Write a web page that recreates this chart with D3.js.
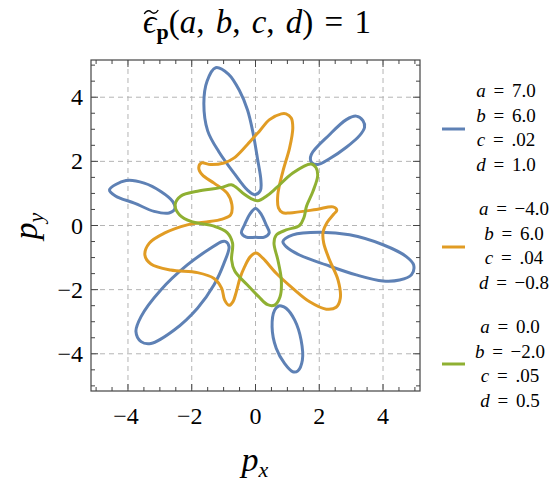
<!DOCTYPE html>
<html><head><meta charset="utf-8">
<script src="https://cdn.jsdelivr.net/npm/d3@7"></script>
<style>body{margin:0;background:#fff}svg{display:block}text{font-family:"Liberation Serif","DejaVu Serif",serif;fill:#000}</style>
</head><body><svg id="c" width="555" height="483"></svg>
<script>
// ---- data ----
const xTicks = [-4, -2, 0, 2, 4];
const yTicks = [-4, -2, 0, 2, 4];
const blueLoops = [
  [[-1.25,4.92],[-0.85,4.72],[-0.5,4.2],[-0.25,3.6],[-0.08,2.9],[0.06,2.1],[0.17,1.4],[0.15,1.08],[-0.03,0.96],[-0.25,1.1],[-0.65,1.6],[-1.15,2.3],[-1.5,2.95],[-1.62,3.8],[-1.52,4.5]],
  [[1.75,2.21],[2.32,2.83],[2.85,3.3],[3.16,3.41],[3.37,3.27],[3.42,3.06],[3.27,2.81],[2.85,2.44],[2.32,2.08],[1.96,1.9],[1.75,1.98]],
  [[-4.58,1.11],[-4.06,1.4],[-3.49,1.32],[-2.97,1.06],[-2.6,0.75],[-2.53,0.52],[-2.71,0.39],[-3.18,0.44],[-3.8,0.7],[-4.38,0.91]],
  [[0.86,-0.5],[1.17,-0.29],[2.01,-0.21],[2.95,-0.29],[4.0,-0.6],[4.73,-0.97],[4.96,-1.23],[4.89,-1.54],[4.52,-1.7],[4.0,-1.73],[3.16,-1.54],[2.22,-1.23],[1.38,-0.92],[0.96,-0.66]],
  [[0.81,-2.51],[0.96,-2.58],[1.23,-2.95],[1.43,-3.57],[1.47,-4.2],[1.33,-4.53],[1.17,-4.56],[0.91,-4.3],[0.65,-3.83],[0.52,-3.16],[0.6,-2.64],[0.73,-2.51]],
  [[-0.94,-0.5],[-0.83,-0.66],[-0.99,-1.18],[-1.3,-1.85],[-1.82,-2.58],[-2.55,-3.26],[-3.28,-3.68],[-3.59,-3.62],[-3.75,-3.31],[-3.59,-2.84],[-2.97,-2.01],[-2.14,-1.23],[-1.41,-0.71],[-1.04,-0.5]],
  [[0,0.53],[0.18,0.35],[0.33,0.03],[0.43,-0.23],[0.28,-0.36],[0,-0.37],[-0.29,-0.36],[-0.44,-0.23],[-0.34,0.03],[-0.18,0.35]]
];
const orangeCurve = [[0.81,3.48],[0.44,3.3],[0.13,2.95],[-0.26,2.52],[-0.68,2.1],[-0.99,1.95],[-1.41,1.9],[-1.69,1.95],[-1.78,1.8],[-1.67,1.58],[-1.3,1.32],[-0.89,1.01],[-0.74,0.65],[-0.78,0.33],[-1.04,0.2],[-1.61,0.1],[-2.14,0.02],[-2.86,-0.24],[-3.33,-0.55],[-3.47,-0.92],[-3.28,-1.2],[-2.66,-1.39],[-1.82,-1.47],[-1.3,-1.65],[-1.06,-1.96],[-0.97,-2.32],[-0.83,-2.49],[-0.71,-2.38],[-0.6,-2.06],[-0.49,-1.65],[-0.34,-1.28],[-0.16,-0.97],[0.02,-0.86],[0.23,-1.02],[0.65,-1.49],[1.17,-1.96],[1.7,-2.38],[2.22,-2.61],[2.53,-2.55],[2.66,-2.27],[2.59,-1.7],[2.32,-1.07],[2.14,-0.55],[2.12,-0.2],[2.25,0.1],[2.45,0.35],[2.55,0.48],[2.43,0.58],[1.91,0.5],[1.07,0.39],[0.85,0.4],[0.72,0.55],[0.7,0.96],[0.86,1.69],[1.07,2.42],[1.17,3.04],[1.12,3.35],[0.96,3.48]];
const greenCurve = [[1.75,1.92],[1.17,1.64],[0.65,1.17],[0.35,0.92],[0.07,0.77],[-0.14,0.84],[-0.36,0.98],[-0.62,1.2],[-0.76,1.27],[-1.09,1.18],[-1.82,1.07],[-2.34,0.92],[-2.52,0.65],[-2.38,0.33],[-2.0,0.12],[-1.3,-0.02],[-0.89,-0.22],[-0.72,-0.55],[-0.75,-1.07],[-0.65,-1.42],[-0.26,-1.85],[0.1,-2.22],[0.38,-2.47],[0.6,-2.48],[0.77,-2.22],[0.81,-1.7],[0.7,-1.07],[0.58,-0.55],[0.65,-0.3],[0.96,-0.14],[1.38,0.0],[1.52,0.25],[1.6,0.6],[1.8,1.06],[1.95,1.55],[1.9,1.8]];
const seriesNames = ["blue","orange","green"];
const seriesColors = ["#5E81B5","#E19C24","#8FB032"];
const paramA = ["7.0","\u22124.0","0.0"];
const paramB = ["6.0","6.0","\u22122.0"];
const paramC = [".02",".04",".05"];
const paramD = ["1.0","\u22120.8","0.5"];

// ---- chart ----
const svg = d3.select("#c");
const L = 91, R = 420, T = 60, B = 391;
const x = d3.scaleLinear().domain([-5.16, 5.16]).range([L, R]);
const y = d3.scaleLinear().domain([-5.16, 5.16]).range([B, T]);

// grid
const g = svg.append("g");
g.selectAll(".vg").data(xTicks).join("line")
  .attr("x1", d => x(d)).attr("x2", d => x(d)).attr("y1", T).attr("y2", B)
  .attr("stroke", "#b4b4b4").attr("stroke-width", 1).attr("stroke-dasharray", "5,4");
g.selectAll(".hg").data(yTicks).join("line")
  .attr("y1", d => y(d)).attr("y2", d => y(d)).attr("x1", L).attr("x2", R)
  .attr("stroke", "#b4b4b4").attr("stroke-width", 1).attr("stroke-dasharray", "5,4");

// curves
const line = d3.line().x(d => x(d[0])).y(d => y(d[1])).curve(d3.curveCatmullRomClosed.alpha(0.5));
svg.append("clipPath").attr("id", "cp").append("rect").attr("x", L).attr("y", T).attr("width", R - L).attr("height", B - T);
const cg = svg.append("g").attr("clip-path", "url(#cp)");
const all = [blueLoops.map(l => [l, 0]), [[orangeCurve, 1]], [[greenCurve, 2]]].flat();
cg.selectAll("path").data(all).join("path")
  .attr("d", d => line(d[0])).attr("fill", "none")
  .attr("stroke", d => seriesColors[d[1]]).attr("stroke-width", 3).attr("stroke-linejoin", "round");

// frame + ticks (inward, all sides)
const minor = d3.range(-5, 5.01, 0.5);
const axC = "#444";
const tk = svg.append("g").attr("stroke", axC).attr("stroke-width", 1);
minor.forEach(v => {
  const major = Math.abs(v % 2) < 1e-9;
  const len = major ? 7 : 4;
  tk.append("line").attr("x1", x(v)).attr("x2", x(v)).attr("y1", B).attr("y2", B - len);
  tk.append("line").attr("x1", x(v)).attr("x2", x(v)).attr("y1", T).attr("y2", T + len);
  tk.append("line").attr("y1", y(v)).attr("y2", y(v)).attr("x1", L).attr("x2", L + len);
  tk.append("line").attr("y1", y(v)).attr("y2", y(v)).attr("x1", R).attr("x2", R - len);
});
svg.append("rect").attr("x", L).attr("y", T).attr("width", R - L).attr("height", B - T)
  .attr("fill", "none").attr("stroke", axC).attr("stroke-width", 1.2);

const fmt = v => v < 0 ? "\u2212" + Math.abs(v) : String(v);
svg.selectAll(".xl").data(xTicks).join("text")
  .attr("x", d => x(d) - (d < 0 ? 2 : 0)).attr("y", 424).attr("text-anchor", "middle").attr("font-size", 24).text(fmt);
svg.selectAll(".yl").data(yTicks).join("text")
  .attr("x", 83).attr("y", d => y(d) + 8).attr("text-anchor", "end").attr("font-size", 24).text(fmt);

// axis titles
const xt = svg.append("text").attr("x", 255).attr("y", 471).attr("text-anchor", "middle").attr("font-size", 34);
xt.append("tspan").attr("font-style", "italic").text("p");
xt.append("tspan").attr("font-style", "italic").attr("font-size", 22).attr("dy", 6).text("x");
const yt = svg.append("text").attr("transform", "translate(37,226) rotate(-90)").attr("text-anchor", "middle").attr("font-size", 34);
yt.append("tspan").attr("font-style", "italic").text("p");
yt.append("tspan").attr("font-style", "italic").attr("font-size", 22).attr("dy", 6).text("y");

// title
const tt = svg.append("text").attr("x", 257).attr("y", 33).attr("text-anchor", "middle").attr("font-size", 33).attr("word-spacing", 3);
tt.append("tspan").attr("font-style", "italic").text("\u03F5");
tt.append("tspan").attr("font-weight", "bold").attr("font-size", 22).attr("dy", 6).text("p");
tt.append("tspan").attr("dy", -6).text("(");
["a", "b", "c", "d"].forEach((s, i) => {
  tt.append("tspan").attr("font-style", "italic").text(s);
  if (i < 3) tt.append("tspan").text(", ");
});
tt.append("tspan").text(") = 1");
// tilde accent over epsilon (drawn as a stroke)
const e0 = tt.node().getStartPositionOfChar(0), e1 = tt.node().getEndPositionOfChar(0);
const tcx = (e0.x + e1.x) / 2 + 1.5, tcy = 12;
svg.append("path")
  .attr("d", `M${tcx - 7},${tcy + 2} C${tcx - 4},${tcy - 3} ${tcx - 1},${tcy - 1} ${tcx},${tcy} S${tcx + 4},${tcy + 3} ${tcx + 7},${tcy - 2}`)
  .attr("fill", "none").attr("stroke", "#000").attr("stroke-width", 1.3);

// legend
const blockTop = [97, 215, 333];
const blockCx = [506, 514, 510];
const lineY = [129, 247, 364];
seriesNames.forEach((n, i) => {
  svg.append("line").attr("x1", 442).attr("x2", 465).attr("y1", lineY[i]).attr("y2", lineY[i])
    .attr("stroke", seriesColors[i]).attr("stroke-width", 3);
  const rows = [["a", paramA[i]], ["b", paramB[i]], ["c", paramC[i]], ["d", paramD[i]]];
  rows.forEach((r, j) => {
    const t = svg.append("text").attr("x", blockCx[i]).attr("y", blockTop[i] + j * 24.5)
      .attr("text-anchor", "middle").attr("font-size", 19).attr("word-spacing", 3);
    t.append("tspan").attr("font-style", "italic").text(r[0]);
    t.append("tspan").text(" = " + r[1]);
  });
});
</script></body></html>
